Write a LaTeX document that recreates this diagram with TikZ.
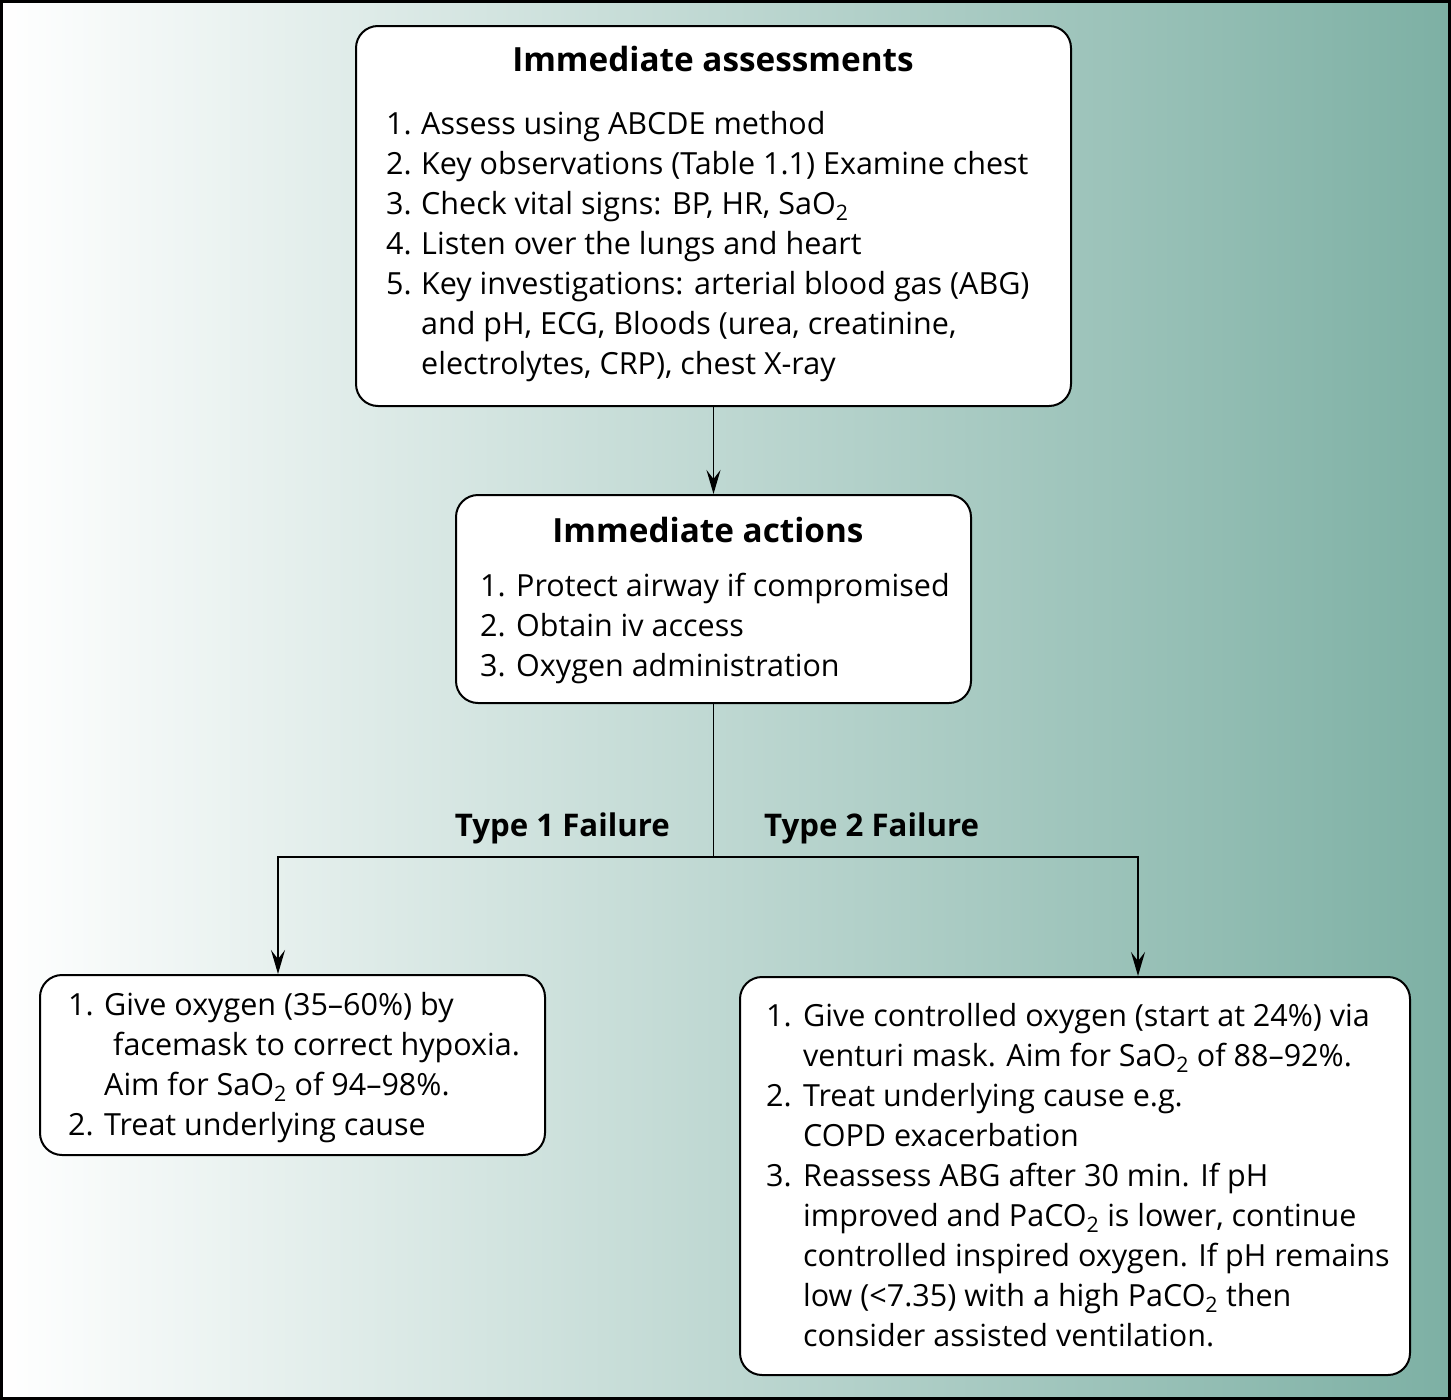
\documentclass[tikz,border=0pt]{standalone}
\usepackage{fontspec}
\setmainfont{Open Sans}
\usetikzlibrary{arrows.meta}
\definecolor{tealR}{HTML}{7DB0A4}
\definecolor{tealM}{HTML}{B8D0CB}
\newcommand\txtfont{\fontsize{30.5}{36}\selectfont}
\newcommand\li[6]{\node[txt] (#1n) at (#2,#4) {#5}; \node[txt] (#1) at (#3,#4) {#6};}
\newcommand\tl[4]{\node[txt] (#1) at (#2,#3) {#4};}
\begin{document}
\begin{tikzpicture}[x=1pt,y=-1pt,
  box/.style={draw=black, line width=2pt, fill=white, rounded corners=22pt, inner sep=0pt},
  txt/.style={inner sep=0pt, anchor=base west, font=\txtfont},
  ttl/.style={inner sep=0pt, anchor=base, font=\fontsize{33.3}{38}\selectfont\bfseries},
  lbl/.style={inner sep=0pt, font=\fontsize{31.2}{36}\selectfont\bfseries},
  conn/.style={line width=1.8pt},
  arr/.style={conn, -{Stealth[length=24pt,width=14pt,inset=9pt]}}]
\useasboundingbox (0,0) rectangle (1451,1400);
\shade[left color=white, middle color=tealM, right color=tealR, shading angle=90] (0,0) rectangle (1451,1400);
\draw[line width=3pt] (1.5,1.5) rectangle (1449.5,1398.5);
% boxes
\node[box, minimum width=715pt, minimum height=380pt] (b1) at (713.5,216) {};
\node[box, minimum width=515pt, minimum height=208pt] (b2) at (713.5,599) {};
\node[box, minimum width=505pt, minimum height=180pt] (b3) at (292.5,1065) {};
\node[box, minimum width=670pt, minimum height=398pt] (b4) at (1075,1176) {};
% box 1
\node[ttl] (t1) at (713,71) {Immediate assessments};
\li{a1}{386}{421}{134}{1.}{Assess using ABCDE method}
\li{a2}{386}{421}{174}{2.}{Key observations (Table 1.1) Examine chest}
\li{a3}{386}{421}{214}{3.}{Check vital signs: BP, HR, SaO\textsubscript{2}}
\li{a4}{386}{421}{254}{4.}{Listen over the lungs and heart}
\li{a5}{386}{421}{294}{5.}{Key investigations: arterial blood gas (ABG)}
\tl{a6}{421}{334}{and pH, ECG, Bloods (urea, creatinine,}
\tl{a7}{421}{374}{electrolytes, CRP), chest X-ray}
% box 2
\node[ttl] (t2) at (708,542) {Immediate actions};
\li{c1}{480}{516}{596}{1.}{Protect airway if compromised}
\li{c2}{480}{516}{636}{2.}{Obtain iv access}
\li{c3}{480}{516}{676}{3.}{Oxygen administration}
% labels
\node[lbl, anchor=base east] (f1) at (670,836) {Type 1 Failure};
\node[lbl, anchor=base west] (f2) at (764,836) {Type 2 Failure};
% box 3
\li{d1}{68}{104}{1015}{1.}{Give oxygen (35–60\%) by}
\tl{d2}{113}{1055}{facemask to correct hypoxia.}
\tl{d3}{104}{1095}{Aim for SaO\textsubscript{2} of 94–98\%.}
\li{d4}{68}{104}{1135}{2.}{Treat underlying cause}
% box 4
\li{e1}{766}{803}{1026}{1.}{Give controlled oxygen (start at 24\%) via}
\tl{e2}{803}{1066}{venturi mask. Aim for SaO\textsubscript{2} of 88–92\%.}
\li{e3}{766}{803}{1106}{2.}{Treat underlying cause e.g.}
\tl{e4}{803}{1146}{COPD exacerbation}
\li{e5}{766}{803}{1186}{3.}{Reassess ABG after 30 min. If pH}
\tl{e6}{803}{1226}{improved and PaCO\textsubscript{2} is lower, continue}
\tl{e7}{803}{1266}{controlled inspired oxygen. If pH remains}
\tl{e8}{803}{1306}{low (<7.35) with a high PaCO\textsubscript{2} then}
\tl{e9}{803}{1346}{consider assisted ventilation.}
% connectors
\coordinate (j) at (713.5,857);
\coordinate (l) at (278,857);
\coordinate (r) at (1138,857);
\draw[arr] (b1.south) -- (b2.north);
\draw[conn] (b2.south) -- (j);
\draw[arr] (j) -- (l) -- (b3.north -| l);
\draw[arr] (j) -- (r) -- (b4.north -| r);
\end{tikzpicture}
\end{document}
